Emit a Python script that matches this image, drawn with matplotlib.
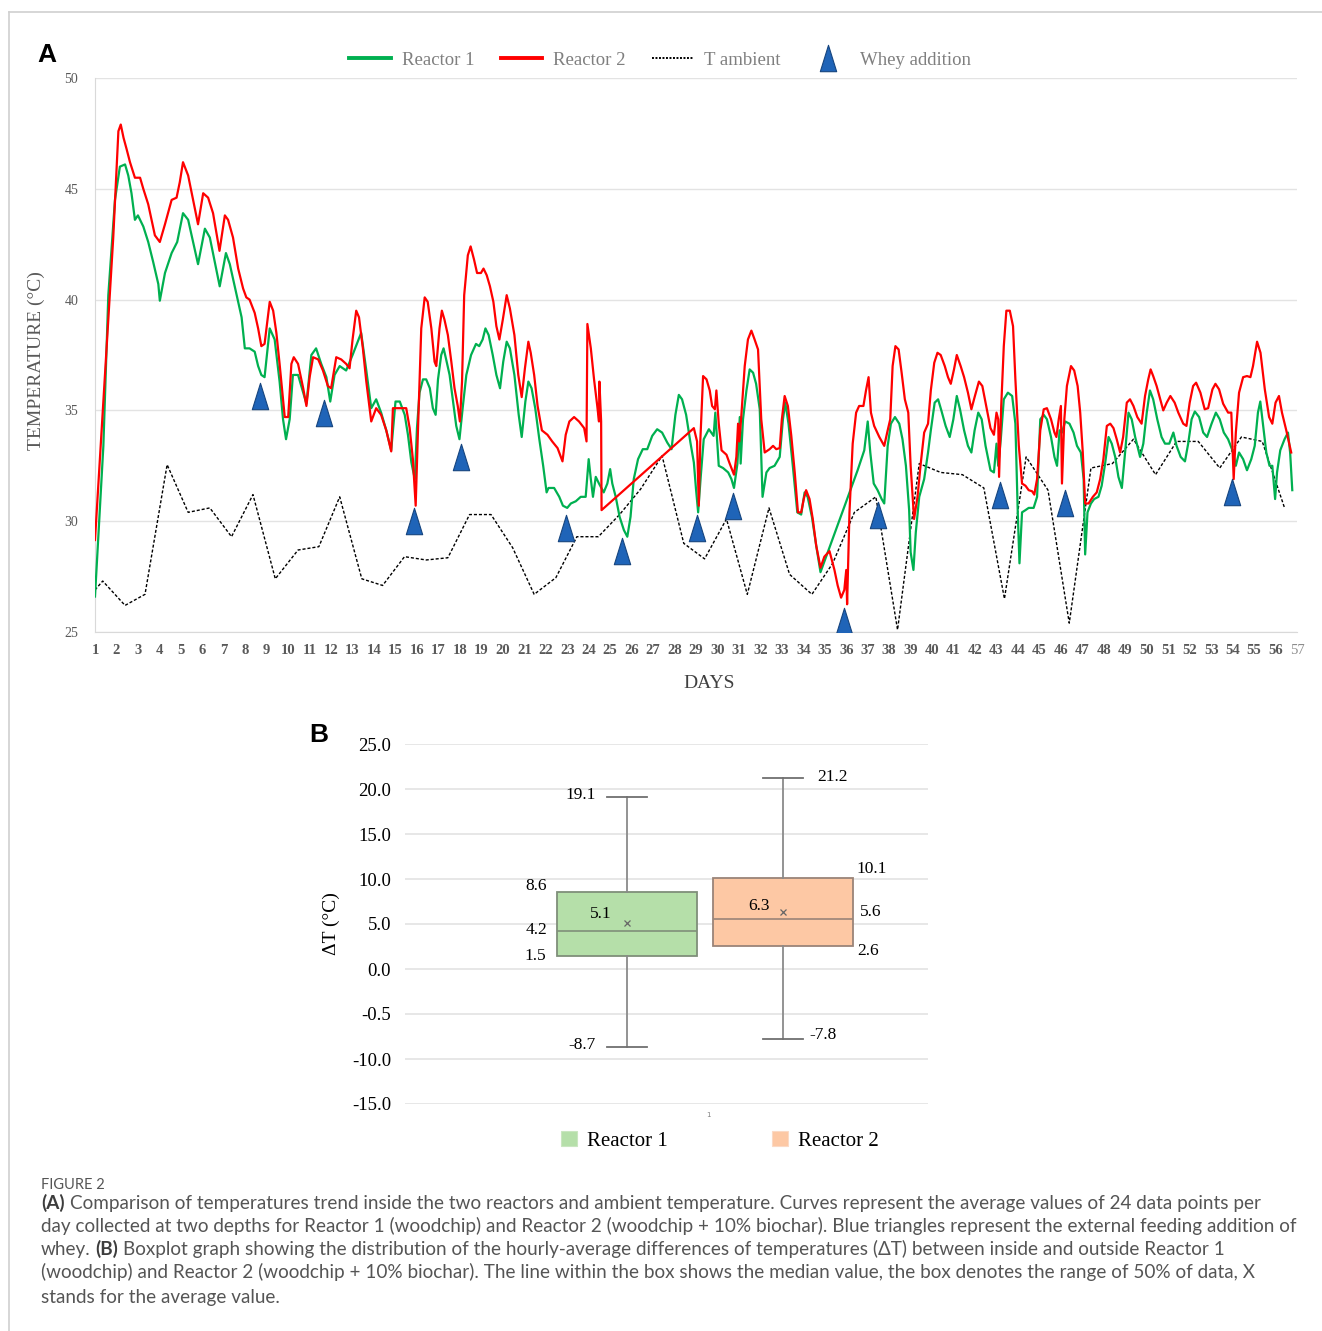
import matplotlib
matplotlib.use('Agg')
import matplotlib.pyplot as plt
from matplotlib.lines import Line2D
from matplotlib.patches import Patch
from matplotlib.path import Path

# ---------------- data: panel A ----------------
r2_day = [1.0, 1.39, 1.85, 2.09, 2.2, 2.33, 2.47, 2.63, 2.86, 3.1, 3.25, 3.48, 3.79, 4.02, 4.26, 4.57, 4.8, 4.95,
          5.1, 5.34, 5.57, 5.8, 6.04, 6.27, 6.5, 6.8, 7.05, 7.2, 7.43, 7.67, 7.9, 8.05, 8.2, 8.44, 8.6, 8.75, 8.9,
          9.14, 9.3, 9.45, 9.6, 9.84, 10.0, 10.15, 10.26, 10.46, 10.7, 10.85, 11.0, 11.16, 11.4, 11.62, 11.85, 12.0,
          12.24, 12.47, 12.7, 12.86, 13.0, 13.17, 13.3, 13.48, 13.64, 13.87, 14.1, 14.33, 14.57, 14.8, 14.88, 15.5,
          15.66, 15.81, 15.94, 16.05, 16.2, 16.36, 16.5, 16.67, 16.82, 16.9, 17.05, 17.16, 17.28, 17.44, 17.6, 17.75,
          17.9, 18.0, 18.1, 18.2, 18.37, 18.5, 18.66, 18.8, 18.98, 19.1, 19.25, 19.4, 19.56, 19.7, 19.84, 20.0,
          20.18, 20.33, 20.54, 20.72, 20.88, 21.03, 21.19, 21.3, 21.46, 21.62, 21.82, 22.08, 22.3, 22.55, 22.78,
          22.93, 23.1, 23.32, 23.55, 23.79, 23.9, 23.94, 24.1, 24.25, 24.4, 24.48, 24.5, 24.58, 24.6, 28.9, 29.05,
          29.13, 29.2, 29.33, 29.49, 29.64, 29.75, 29.88, 29.95, 30.06, 30.19, 30.42, 30.57, 30.77, 30.88, 30.96,
          31.02, 31.1, 31.27, 31.42, 31.58, 31.73, 31.89, 32.04, 32.2, 32.43, 32.59, 32.74, 32.9, 33.0, 33.13,
          33.28, 33.44, 33.6, 33.75, 33.9, 34.02, 34.13, 34.29, 34.44, 34.6, 34.8, 34.98, 35.22, 35.45, 35.6,
          35.76, 35.91, 36.0, 36.04, 36.15, 36.3, 36.46, 36.6, 36.8, 36.92, 37.04, 37.15, 37.3, 37.54, 37.77,
          37.93, 38.05, 38.16, 38.29, 38.44, 38.58, 38.73, 38.89, 39.0, 39.16, 39.32, 39.47, 39.63, 39.81, 39.94,
          40.1, 40.25, 40.4, 40.59, 40.74, 40.87, 41.02, 41.15, 41.33, 41.49, 41.67, 41.83, 41.98, 42.18, 42.34,
          42.49, 42.72, 42.88, 43.0, 43.08, 43.12, 43.22, 43.34, 43.46, 43.62, 43.77, 43.88, 44.04, 44.19, 44.35,
          44.5, 44.66, 44.76, 44.89, 45.04, 45.2, 45.35, 45.54, 45.7, 45.79, 45.9, 46.0, 46.05, 46.16, 46.28,
          46.47, 46.62, 46.78, 46.9, 47.02, 47.13, 47.29, 47.49, 47.67, 47.83, 47.98, 48.14, 48.3, 48.45, 48.6,
          48.76, 48.9, 49.07, 49.22, 49.38, 49.56, 49.76, 49.92, 50.07, 50.18, 50.3, 50.46, 50.6, 50.77, 50.93,
          51.1, 51.3, 51.47, 51.7, 51.85, 52.0, 52.16, 52.3, 52.5, 52.7, 52.86, 53.06, 53.2, 53.37, 53.56, 53.79,
          53.94, 54.05, 54.15, 54.3, 54.49, 54.67, 54.83, 54.95, 55.14, 55.3, 55.5, 55.7, 55.85, 56.0, 56.16,
          56.3, 56.5, 56.73]
r2_temp = [29.15, 35.4, 42.8, 47.6, 47.9, 47.3, 46.8, 46.2, 45.5, 45.5, 45.0, 44.3, 42.9, 42.6, 43.4, 44.5, 44.6,
           45.3, 46.2, 45.6, 44.5, 43.4, 44.8, 44.6, 43.9, 42.2, 43.8, 43.6, 42.8, 41.4, 40.5, 40.1, 40.0, 39.4,
           38.7, 37.9, 38.0, 39.9, 39.5, 38.5, 37.1, 34.7, 34.7, 37.1, 37.4, 37.1, 36.0, 35.2, 36.5, 37.4, 37.3,
           36.8, 36.1, 36.0, 37.4, 37.3, 37.1, 36.9, 38.2, 39.5, 39.2, 37.8, 36.3, 34.5, 35.1, 34.8, 34.1, 33.15,
           35.1, 35.1, 34.2, 32.8, 30.7, 34.2, 38.7, 40.1, 39.9, 38.7, 37.2, 37.0, 38.7, 39.5, 39.1, 38.4, 37.2,
           36.0, 35.2, 34.5, 36.3, 40.2, 42.0, 42.4, 41.8, 41.2, 41.2, 41.4, 41.1, 40.6, 39.9, 38.8, 38.2, 39.1,
           40.2, 39.6, 38.4, 36.6, 35.6, 36.9, 38.1, 37.6, 36.6, 35.2, 34.1, 33.9, 33.6, 33.3, 32.7, 33.9, 34.5,
           34.7, 34.5, 34.2, 33.6, 38.9, 37.8, 36.4, 35.2, 34.5, 36.3, 34.5, 30.5, 34.2, 33.6, 30.7, 33.6, 36.55,
           36.4, 35.9, 35.2, 35.05, 35.9, 34.4, 33.2, 33.0, 32.6, 32.1, 32.9, 34.4, 33.6, 34.6, 37.0, 38.2, 38.6,
           38.2, 37.75, 34.6, 33.1, 33.25, 33.4, 33.25, 33.3, 34.6, 35.65, 35.2, 33.85, 32.2, 30.4, 30.4, 31.0,
           31.4, 31.0, 30.1, 28.9, 27.9, 28.4, 28.65, 27.8, 27.1, 26.55, 26.9, 27.8, 26.25, 30.4, 33.5, 34.9, 35.2,
           35.2, 35.9, 36.5, 34.9, 34.3, 33.8, 33.4, 34.1, 34.6, 37.0, 37.9, 37.75, 36.7, 35.5, 34.9, 32.5, 30.1,
           31.1, 32.6, 34.0, 34.4, 35.9, 37.15, 37.6, 37.5, 37.0, 36.5, 36.2, 36.85, 37.5, 37.0, 36.5, 35.8, 35.05,
           35.6, 36.3, 36.1, 35.35, 34.2, 33.9, 34.9, 34.6, 32.0, 35.2, 37.9, 39.5, 39.5, 38.8, 36.4, 33.4, 31.7,
           31.6, 31.4, 31.35, 31.2, 31.9, 34.1, 35.05, 35.1, 34.6, 34.0, 33.8, 34.6, 35.2, 31.7, 34.6, 36.1, 37.0,
           36.8, 36.1, 34.9, 33.1, 30.8, 30.8, 31.1, 31.3, 31.9, 32.8, 34.3, 34.4, 34.2, 33.7, 33.1, 33.8, 35.35,
           35.5, 35.2, 34.7, 34.4, 35.65, 36.4, 36.85, 36.55, 36.1, 35.6, 35.0, 35.35, 35.65, 35.35, 34.9, 34.4,
           34.3, 35.35, 36.1, 36.25, 35.8, 35.05, 35.1, 35.95, 36.2, 35.95, 35.3, 34.9, 34.9, 31.9, 34.0, 35.8,
           36.5, 36.55, 36.5, 37.0, 38.1, 37.6, 35.95, 34.7, 34.4, 35.35, 35.65, 34.9, 34.1, 33.1]

r1_day = [1.0, 1.39, 1.62, 1.93, 2.16, 2.4, 2.55, 2.7, 2.86, 3.0, 3.25, 3.48, 3.71, 3.95, 4.02, 4.26, 4.57, 4.83,
          5.1, 5.34, 5.57, 5.8, 6.12, 6.35, 6.58, 6.81, 7.1, 7.28, 7.6, 7.83, 7.98, 8.2, 8.44, 8.6, 8.75, 8.9, 9.14,
          9.37, 9.6, 9.76, 9.9, 10.07, 10.22, 10.46, 10.7, 10.85, 11.08, 11.3, 11.54, 11.78, 11.96, 12.16, 12.4,
          12.7, 13.0, 13.4, 13.64, 13.87, 14.1, 14.33, 14.57, 14.8, 15.0, 15.2, 15.43, 15.58, 15.74, 15.9, 16.0,
          16.12, 16.28, 16.43, 16.6, 16.74, 16.87, 16.98, 17.13, 17.24, 17.36, 17.52, 17.67, 17.83, 17.98, 18.14,
          18.3, 18.52, 18.75, 18.9, 19.06, 19.19, 19.34, 19.53, 19.7, 19.87, 20.02, 20.18, 20.33, 20.54, 20.74,
          20.88, 21.05, 21.19, 21.34, 21.51, 21.7, 21.88, 22.04, 22.13, 22.39, 22.63, 22.8, 23.0, 23.17, 23.4,
          23.63, 23.86, 24.0, 24.1, 24.2, 24.33, 24.48, 24.7, 24.87, 25.0, 25.1, 25.26, 25.44, 25.64, 25.8, 25.95,
          26.1, 26.3, 26.52, 26.73, 26.96, 27.19, 27.42, 27.66, 27.86, 28.04, 28.2, 28.35, 28.54, 28.74, 28.9,
          29.0, 29.1, 29.22, 29.36, 29.6, 29.82, 29.9, 30.06, 30.26, 30.5, 30.65, 30.77, 30.93, 31.04, 31.08,
          31.19, 31.35, 31.5, 31.66, 31.8, 31.97, 32.1, 32.28, 32.43, 32.66, 32.9, 33.05, 33.16, 33.31, 33.51,
          33.72, 33.9, 34.06, 34.2, 34.4, 34.6, 34.8, 36.53, 36.84, 37.0, 37.12, 37.28, 37.46, 37.65, 37.77, 37.93,
          38.08, 38.27, 38.47, 38.62, 38.78, 38.93, 39.0, 39.13, 39.24, 39.4, 39.63, 39.81, 39.94, 40.12, 40.28,
          40.43, 40.63, 40.82, 40.99, 41.15, 41.3, 41.49, 41.67, 41.83, 41.98, 42.15, 42.31, 42.49, 42.72, 42.88,
          43.0, 43.08, 43.2, 43.34, 43.53, 43.73, 43.88, 43.99, 44.07, 44.19, 44.35, 44.5, 44.73, 44.89, 45.04,
          45.2, 45.35, 45.54, 45.7, 45.82, 45.94, 46.05, 46.2, 46.4, 46.59, 46.75, 46.93, 47.06, 47.13, 47.24,
          47.4, 47.55, 47.75, 47.9, 48.06, 48.22, 48.37, 48.53, 48.68, 48.84, 49.0, 49.15, 49.3, 49.46, 49.69,
          49.84, 50.0, 50.15, 50.3, 50.49, 50.69, 50.85, 51.05, 51.24, 51.39, 51.58, 51.78, 51.93, 52.09, 52.24,
          52.44, 52.63, 52.81, 53.02, 53.22, 53.4, 53.59, 53.79, 53.99, 54.15, 54.3, 54.49, 54.67, 54.87, 55.03,
          55.18, 55.29, 55.41, 55.57, 55.72, 55.85, 55.98, 56.07, 56.22, 56.42, 56.58, 56.68, 56.78]
r1_temp = [26.6, 33.4, 40.2, 44.5, 46.0, 46.1, 45.6, 44.8, 43.6, 43.8, 43.3, 42.6, 41.7, 40.7, 39.95, 41.2, 42.1,
           42.6, 43.9, 43.6, 42.6, 41.6, 43.2, 42.8, 41.7, 40.6, 42.1, 41.6, 40.2, 39.2, 37.8, 37.8, 37.65, 37.0,
           36.6, 36.5, 38.7, 38.2, 36.3, 34.6, 33.7, 34.6, 36.6, 36.6, 35.8, 35.3, 37.5, 37.8, 37.1, 36.5, 35.4,
           36.6, 37.0, 36.8, 37.5, 38.5, 36.8, 35.1, 35.5, 34.9, 34.1, 33.2, 35.4, 35.4, 34.8, 33.9, 32.65, 31.9,
           34.2, 35.8, 36.4, 36.4, 36.0, 35.1, 34.8, 36.4, 37.5, 37.8, 37.3, 36.6, 35.5, 34.3, 33.7, 35.2, 36.6,
           37.5, 38.0, 37.9, 38.2, 38.7, 38.4, 37.5, 36.6, 36.0, 37.2, 38.1, 37.8, 36.6, 34.8, 33.8, 35.4, 36.3,
           36.0, 35.1, 33.7, 32.5, 31.3, 31.5, 31.5, 31.1, 30.7, 30.6, 30.8, 30.9, 31.1, 31.1, 32.8, 31.9, 31.1,
           32.0, 31.7, 31.3, 31.7, 32.35, 31.7, 31.1, 30.2, 29.6, 29.3, 30.2, 31.9, 32.8, 33.25, 33.25, 33.85,
           34.15, 34.0, 33.55, 33.25, 34.8, 35.7, 35.5, 34.8, 33.55, 32.65, 31.45, 30.4, 32.0, 33.7, 34.15, 33.85,
           34.9, 32.5, 32.4, 32.2, 31.9, 31.5, 32.6, 34.7, 32.6, 34.6, 35.9, 36.85, 36.7, 36.2, 35.05, 31.1, 32.2,
           32.4, 32.5, 32.9, 34.6, 35.35, 34.4, 32.5, 30.4, 30.3, 31.3, 31.1, 30.2, 28.9, 27.7, 32.3, 33.2, 34.5,
           33.1, 31.7, 31.4, 31.0, 30.8, 33.4, 34.4, 34.7, 34.4, 33.7, 32.5, 30.5, 28.6, 27.8, 29.5, 31.1, 31.9,
           33.1, 34.1, 35.35, 35.5, 35.0, 34.3, 33.8, 34.6, 35.65, 35.05, 34.1, 33.4, 33.1, 34.1, 34.9, 34.6, 33.4,
           32.3, 32.2, 33.5, 32.5, 33.7, 35.5, 35.8, 35.65, 34.4, 30.4, 28.1, 30.4, 30.5, 30.6, 30.6, 31.1, 34.6,
           34.8, 34.6, 33.8, 32.9, 32.5, 34.1, 34.0, 34.5, 34.4, 34.0, 33.4, 33.1, 31.9, 28.5, 30.4, 30.8, 31.0,
           31.1, 31.6, 32.6, 33.8, 33.5, 32.9, 32.0, 31.5, 33.2, 34.9, 34.6, 33.8, 32.9, 33.5, 34.9, 35.9, 35.5,
           34.6, 33.8, 33.5, 33.5, 34.0, 33.4, 32.9, 32.7, 33.5, 34.6, 34.95, 34.7, 34.0, 33.8, 34.4, 34.9, 34.6,
           34.0, 33.7, 33.2, 32.5, 33.1, 32.8, 32.3, 32.8, 33.4, 34.9, 35.4, 34.4, 33.1, 32.5, 32.5, 31.0, 32.2,
           33.2, 33.7, 34.0, 33.1, 31.4]

amb_day = [1.0, 1.36, 2.4, 3.33, 4.36, 5.34, 6.35, 7.36, 8.36, 9.4, 10.46, 11.43, 12.4, 13.43, 14.4, 15.42,
           16.43, 17.44, 18.45, 19.45, 20.46, 21.46, 22.47, 23.45, 24.45, 25.44, 26.42, 27.42, 28.43, 29.4, 30.42,
           31.39, 32.4, 33.36, 34.4, 35.37, 36.38, 37.38, 38.39, 39.4, 40.4, 41.41, 42.41, 43.37, 44.38, 45.4,
           46.39, 47.4, 48.4, 49.38, 50.41, 51.39, 52.4, 53.4, 54.41, 55.38, 56.42]
amb_temp = [26.9, 27.3, 26.2, 26.7, 32.55, 30.4, 30.6, 29.3, 31.2, 27.4, 28.7, 28.85, 31.1, 27.4, 27.1, 28.4,
            28.25, 28.35, 30.3, 30.3, 28.8, 26.7, 27.45, 29.3, 29.3, 30.3, 31.45, 32.95, 29.0, 28.3, 30.1, 26.7,
            30.6, 27.6, 26.7, 28.1, 30.4, 31.1, 25.1, 32.6, 32.2, 32.1, 31.5, 26.5, 32.9, 31.4, 25.4, 32.4, 32.6,
            33.7, 32.1, 33.6, 33.6, 32.4, 33.8, 33.6, 30.6]

whey_day = [8.69, 11.67, 15.87, 18.06, 22.95, 25.56, 29.05, 30.73, 35.9, 37.5, 43.17, 46.2, 53.98]
whey_temp = [35.65, 34.9, 30.0, 32.9, 29.7, 28.65, 29.7, 30.7, 25.5, 30.3, 31.2, 30.8, 31.3]

day_ticks = list(range(1, 58))
temp_ticks = [25, 30, 35, 40, 45, 50]
legend_a_labels = ['Reactor 1', 'Reactor 2', 'T ambient', 'Whey addition']

# ---------------- data: panel B ----------------
box_names = ['Reactor 1', 'Reactor 2']
box_whislo = [-8.7, -7.8]
box_q1 = [1.5, 2.6]
box_med = [4.2, 5.6]
box_q3 = [8.6, 10.1]
box_whishi = [19.1, 21.2]
box_mean = [5.1, 6.3]
dt_ticks = [-15, -10, -5, 0, 5, 10, 15, 20, 25]
dt_tick_labels = ['-15.0', '-10.0', '-0.5', '0.0', '5.0', '10.0', '15.0', '20.0', '25.0']

caption_title = 'FIGURE 2'
# each caption line is a list of (segment, bold)
caption_lines = [
    [('(A)', True), ('Comparison of temperatures trend inside the two reactors and ambient temperature. Curves represent the average values of 24 data points per', False)],
    [('day collected at two depths for Reactor 1 (woodchip) and Reactor 2 (woodchip + 10% biochar). Blue triangles represent the external feeding addition of', False)],
    [('whey.', False), ('(B)', True), ('Boxplot graph showing the distribution of the hourly-average differences of temperatures (\u0394T) between inside and outside Reactor 1', False)],
    [('(woodchip) and Reactor 2 (woodchip + 10% biochar). The line within the box shows the median value, the box denotes the range of 50% of data, X', False)],
    [('stands for the average value.', False)],
]

# ---------------- figure ----------------
W, H = 1322, 1331
fig = plt.figure(figsize=(W / 100, H / 100), dpi=100)
def fx(px): return px / W
def fy(py): return 1 - py / H

SERIF = ['Liberation Serif', 'DejaVu Serif']
GREEN = '#00B050'
RED = '#FF0000'
BLUE = '#1F64B8'
GRAY_TXT = '#595959'

# frame lines
fig.add_artist(Line2D([fx(9), fx(1322)], [fy(12), fy(12)], transform=fig.transFigure, color='#D0D0D0', lw=1.2))
fig.add_artist(Line2D([fx(9), fx(9)], [fy(12), fy(1331)], transform=fig.transFigure, color='#D0D0D0', lw=1.2))

# ---------- panel A ----------
axA = fig.add_axes([fx(95), fy(632), fx(1297) - fx(95), fy(78) - fy(632)])
axA.plot(amb_day, amb_temp, color='black', lw=1.0, ls=(0, (2.2, 1.4)), zorder=2)
axA.plot(r1_day, r1_temp, color=GREEN, lw=1.6, zorder=3, solid_joinstyle='round')
axA.plot(r2_day, r2_temp, color=RED, lw=1.6, zorder=4, solid_joinstyle='round')
tri = Path([(-0.62, -1), (0.62, -1), (0, 1), (-0.62, -1)],
           [Path.MOVETO, Path.LINETO, Path.LINETO, Path.CLOSEPOLY])
axA.plot(whey_day, whey_temp, ls='none', marker=tri, markersize=19, color=BLUE,
         mec='#16457f', mew=0.8, zorder=5)
axA.set_xlim(1, 57)
axA.set_ylim(25, 50)
axA.set_xticks(day_ticks)
axA.set_xticklabels([str(d) for d in day_ticks])
for lab in axA.get_xticklabels():
    lab.set_fontfamily(SERIF)
    lab.set_fontsize(10.5)
    lab.set_fontweight('bold')
    lab.set_color(GRAY_TXT)
last = axA.get_xticklabels()[-1]
last.set_fontweight('normal')
last.set_color('#8C8C8C')
axA.set_yticks(temp_ticks)
axA.set_yticklabels([str(t) for t in temp_ticks], fontfamily=SERIF, fontsize=10, color=GRAY_TXT)
axA.tick_params(axis='both', length=0)
axA.tick_params(axis='x', pad=9)
axA.tick_params(axis='y', pad=12)
axA.grid(axis='y', color='#E3E3E3', lw=1.0)
axA.set_axisbelow(True)
for s in ['top', 'right']:
    axA.spines[s].set_visible(False)
axA.spines['left'].set_color('#D9D9D9')
axA.spines['bottom'].set_color('#D9D9D9')
axA.set_ylabel('TEMPERATURE (\u00b0C)', fontfamily=SERIF, fontsize=14, color=GRAY_TXT)
axA.yaxis.set_label_coords(-0.042, 0.49)
axA.set_xlabel('DAYS', fontfamily=SERIF, fontsize=14, color='#404040')
axA.xaxis.set_label_coords(0.511, -0.078)

fig.text(fx(37), fy(55), 'A', fontsize=19, fontweight='bold', family='Liberation Sans', va='center', ha='left')

handles = [Line2D([], [], color=GREEN, lw=2.8),
           Line2D([], [], color=RED, lw=2.8),
           Line2D([], [], color='black', lw=1.4, ls=(0, (1, 0.8))),
           Line2D([], [], ls='none', marker=tri, markersize=19, color=BLUE, mec='#16457f', mew=0.8)]
legA = fig.legend(handles, legend_a_labels, loc='center', bbox_to_anchor=(fx(660), fy(60)), ncol=4,
                  frameon=False, handlelength=2.2, handletextpad=0.6, columnspacing=1.4,
                  prop={'family': SERIF, 'size': 13.5})
for t in legA.get_texts():
    t.set_color('#7F7F7F')

# ---------- panel B ----------
axB = fig.add_axes([fx(405), fy(1104), fx(928) - fx(405), fy(744) - fy(1104)])
box_pos = [0.4245, 0.7228]
box_width = 0.268
box_fill = ['#B5DFA9', '#FDC8A4']
box_edge = ['#7F8F7A', '#9A8478']
stats = []
for i in range(len(box_names)):
    stats.append(dict(label=box_names[i], whislo=box_whislo[i], q1=box_q1[i], med=box_med[i],
                      q3=box_q3[i], whishi=box_whishi[i], mean=box_mean[i], fliers=[]))
bp = axB.bxp(stats, positions=box_pos, widths=box_width, patch_artist=True, showmeans=True,
             showfliers=False, manage_ticks=False,
             whiskerprops=dict(color='#8A8A8A', lw=1.3),
             capprops=dict(color='#707070', lw=1.3),
             medianprops=dict(lw=1.2),
             meanprops=dict(marker='x', markersize=4.5, markeredgecolor='#666666', markeredgewidth=0.9))
for i, b in enumerate(bp['boxes']):
    b.set_facecolor(box_fill[i])
    b.set_edgecolor(box_edge[i])
    b.set_linewidth(1.3)
    bp['medians'][i].set_color(box_edge[i])
# shorter caps
for i, pos in enumerate(box_pos):
    for c in bp['caps'][2 * i:2 * i + 2]:
        c.set_xdata([pos - 0.039, pos + 0.039])
axB.set_xlim(0, 1)
axB.set_ylim(-15, 25)
axB.set_yticks(dt_ticks)
axB.set_yticklabels(dt_tick_labels, fontfamily=SERIF, fontsize=13.5, color='black')
axB.set_xticks([0.581])
axB.set_xticklabels(['1'], fontsize=5, color='#808080')
axB.tick_params(axis='both', length=0)
axB.tick_params(axis='y', pad=10)
axB.tick_params(axis='x', pad=6)
axB.grid(axis='y', color='#E3E3E3', lw=1.2)
axB.set_axisbelow(True)
for s in axB.spines.values():
    s.set_visible(False)
axB.set_ylabel('\u0394T (\u00b0C)', fontfamily=SERIF, fontsize=14, color='black')
axB.yaxis.set_label_coords(-0.124, 0.5)

lab_kw = dict(fontfamily=SERIF, fontsize=12.5, color='black', va='center')
p1, p2 = box_pos
axB.text(p1 - 0.06, box_whishi[0] + 0.2, f'{box_whishi[0]:.1f}', ha='right', **lab_kw)
axB.text(p1 - box_width / 2 - 0.02, box_q3[0] + 0.6, f'{box_q3[0]:.1f}', ha='right', **lab_kw)
axB.text(p1 - box_width / 2 - 0.018, box_med[0] + 0.1, f'{box_med[0]:.1f}', ha='right', **lab_kw)
axB.text(p1 - box_width / 2 - 0.02, box_q1[0] - 0.1, f'{box_q1[0]:.1f}', ha='right', **lab_kw)
axB.text(p1 - 0.05, box_mean[0] + 1.0, f'{box_mean[0]:.1f}', ha='center', **lab_kw)
axB.text(p1 - 0.06, box_whislo[0] + 0.3, f'{box_whislo[0]:.1f}', ha='right', **lab_kw)
axB.text(p2 + 0.065, box_whishi[1] + 0.1, f'{box_whishi[1]:.1f}', ha='left', **lab_kw)
axB.text(p2 + box_width / 2 + 0.006, box_q3[1] + 1.0, f'{box_q3[1]:.1f}', ha='left', **lab_kw)
axB.text(p2 + box_width / 2 + 0.014, box_med[1] + 0.7, f'{box_med[1]:.1f}', ha='left', **lab_kw)
axB.text(p2 + box_width / 2 + 0.008, box_q1[1] - 0.6, f'{box_q1[1]:.1f}', ha='left', **lab_kw)
axB.text(p2 - 0.045, box_mean[1] + 0.65, f'{box_mean[1]:.1f}', ha='center', **lab_kw)
axB.text(p2 + 0.05, box_whislo[1] + 0.5, f'{box_whislo[1]:.1f}', ha='left', **lab_kw)

fig.text(fx(309), fy(735), 'B', fontsize=19, fontweight='bold', family='Liberation Sans', va='center', ha='left')

hB = [Patch(facecolor=box_fill[0], edgecolor='#C9E6C0', lw=0.8),
      Patch(facecolor=box_fill[1], edgecolor='#FBD9C4', lw=0.8)]
legB = fig.legend(hB, box_names, loc='center', bbox_to_anchor=(fx(720), fy(1141)), ncol=2, frameon=False,
                  handlelength=0.75, handleheight=0.75, handletextpad=0.5, columnspacing=5.0,
                  prop={'family': SERIF, 'size': 15})

# ---------- caption ----------
CAP_FONT = ['Lato', 'DejaVu Sans']
cap_size = 13.6
fig.text(fx(41), fy(1189), caption_title, fontsize=10.5, family=CAP_FONT, color='#555555',
         va='baseline', ha='left')
renderer = fig.canvas.get_renderer()
sp = fig.text(0, 0, 'a a', fontsize=cap_size, family=CAP_FONT)
sa = fig.text(0, 0, 'aa', fontsize=cap_size, family=CAP_FONT)
space_w = sp.get_window_extent(renderer=renderer).width - sa.get_window_extent(renderer=renderer).width
sp.remove()
sa.remove()
line_y = [1209, 1232, 1255, 1278, 1303]
for li, segs in enumerate(caption_lines):
    x = 41.0
    for seg, bold in segs:
        t = fig.text(fx(x), fy(line_y[li]), seg, fontsize=cap_size, family=CAP_FONT,
                     fontweight='bold' if bold else 'normal',
                     color='#3d3d3d' if bold else '#555555', va='baseline', ha='left')
        x += t.get_window_extent(renderer=renderer).width + space_w

fig.savefig('out.png', dpi=100)
